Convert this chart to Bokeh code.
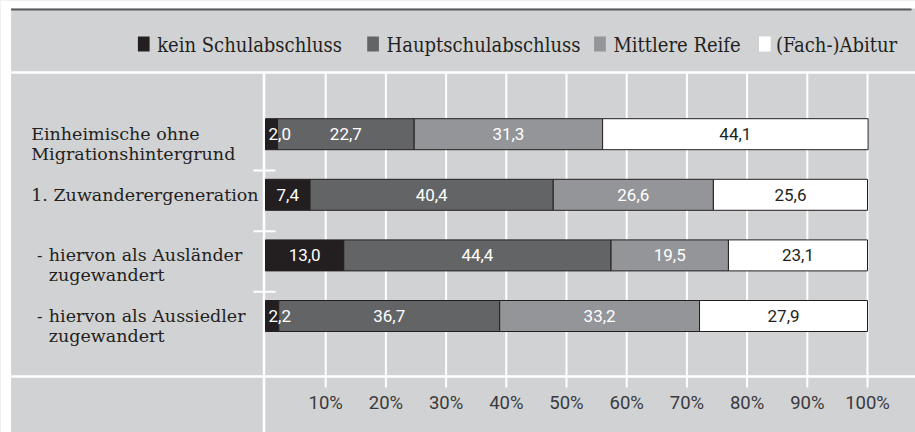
import numpy as np
from bokeh.plotting import figure
from bokeh.models import ColumnDataSource, Range1d
from bokeh.core.properties import value
from bokeh.embed import file_html
from bokeh.resources import INLINE

# ---------------- data ----------------
categories = [
    "Einheimische ohne\nMigrationshintergrund",
    "1. Zuwanderergeneration",
    "hiervon als Ausländer\nzugewandert",
    "hiervon als Aussiedler\nzugewandert",
]
sub_level = [0, 0, 1, 1]
series = ["kein Schulabschluss", "Hauptschulabschluss", "Mittlere Reife", "(Fach-)Abitur"]
kein = [2.0, 7.4, 13.0, 2.2]
haupt = [22.7, 40.4, 44.4, 36.7]
mittlere = [31.3, 26.6, 19.5, 33.2]
abitur = [44.1, 25.6, 23.1, 27.9]
tick_values = [10, 20, 30, 40, 50, 60, 70, 80, 90, 100]
tick_labels = [f"{v}%" for v in tick_values]

# ---------------- style / layout ----------------
colors = ["#231f20", "#636466", "#939598", "#ffffff"]
text_colors = ["#ffffff", "#ffffff", "#ffffff", "#231f20"]
BG = "#d1d2d4"
DARK = "#231f20"
W, H = 915, 432
X0, PXP = 265.0, 6.02        # px of 0 %, px per %
Y0, ROW = 133.7, 60.6        # px of first row centre, px per row
BAR_H = 31.0

LABEL_FONT = value("DejaVu Serif")
LEGEND_FONT = value("DejaVu Serif Condensed")
VALUE_FONT = value("Roboto")
TICK_FONT = value("Roboto")

p = figure(width=W, height=H, output_backend="svg", toolbar_location=None,
           x_range=Range1d((0 - X0) / PXP, (W - X0) / PXP),
           y_range=Range1d((H - Y0) / ROW, (0 - Y0) / ROW),
           x_axis_location=None, y_axis_location=None, min_border=0)
p.extra_x_ranges = {"px": Range1d(0, W)}
p.extra_y_ranges = {"px": Range1d(H, 0)}
p.grid.visible = False
p.outline_line_color = None
p.background_fill_color = BG
p.border_fill_color = BG

# white margins (left / top) & dark top rule
p.quad(left=[0, 0], right=[10.6, W], bottom=[H, 8], top=[0, 0], fill_color="white",
       line_color=None, x_range_name="px", y_range_name="px")
p.segment(x0=10.6, x1=911, y0=9, y1=9, line_color="#58595b", line_width=2,
          x_range_name="px", y_range_name="px")

# separators
p.segment(x0=[10.6, 10.6], x1=[W, W], y0=[72, 376], y1=[72, 376],
          line_color="white", line_width=2.5, x_range_name="px", y_range_name="px")
p.segment(x0=263.5, x1=263.5, y0=72, y1=H, line_color="white", line_width=2.5,
          x_range_name="px", y_range_name="px")

# gridlines
p.segment(x0=tick_values, x1=tick_values, y0=72, y1=387, line_color="white",
          line_width=2, y_range_name="px")

# small ticks between rows
idx = np.arange(len(categories))
p.segment(x0=253, x1=275, y0=idx[:-1] + 0.6, y1=idx[:-1] + 0.6, line_color="white",
          line_width=2, x_range_name="px")

# bars
keys = ["kein", "haupt", "mittlere", "abitur"]
src = ColumnDataSource(dict(idx=idx, kein=kein, haupt=haupt, mittlere=mittlere, abitur=abitur))
p.hbar_stack(keys, y="idx", height=BAR_H / ROW, fill_color=colors, line_color=DARK,
             line_width=1, source=src)

# value labels
vals = np.array([kein, haupt, mittlere, abitur])
starts = np.vstack([np.zeros(len(categories)), np.cumsum(vals, axis=0)[:-1]])
lx, ly, lt, lc, cx, cy, ct, cc = [], [], [], [], [], [], [], []
for j in range(vals.shape[0]):
    for i in range(vals.shape[1]):
        v = vals[j, i]
        t = f"{v:.1f}".replace(".", ",")
        if v < 5:
            lx.append(starts[j, i] + 0.5); ly.append(i); lt.append(t); lc.append(text_colors[j])
        else:
            cx.append(starts[j, i] + v / 2); cy.append(i); ct.append(t); cc.append(text_colors[j])
p.text(x=lx, y=ly, text=lt, text_color=lc, text_align="left", text_baseline="middle",
       text_font=VALUE_FONT, text_font_size="17px")
p.text(x=cx, y=cy, text=ct, text_color=cc, text_align="center", text_baseline="middle",
       text_font=VALUE_FONT, text_font_size="17px")

# category labels
LINE_GAP = 20.0
tx, ty, tt = [], [], []
dx, dy = [], []
for i, (cat, lvl) in enumerate(zip(categories, sub_level)):
    for k, line in enumerate(cat.split("\n")):
        tx.append(48.3 if lvl else 30.7)
        ty.append(i + k * LINE_GAP / ROW)
        tt.append(line)
    if lvl:
        dx.append(36.5); dy.append(i)
p.text(x=tx, y=ty, text=tt, text_color=DARK, text_align="left", text_baseline="middle",
       text_font=LABEL_FONT, text_font_size="17.5px", x_range_name="px")
p.text(x=dx, y=dy, text=["-"] * len(dx), text_color=DARK, text_align="left",
       text_baseline="middle", text_font=LABEL_FONT, text_font_size="16px", x_range_name="px")

# x tick labels
p.text(x=tick_values, y=402.7, text=tick_labels, text_color="#3a3a3c", text_align="center",
       text_baseline="middle", text_font=TICK_FONT, text_font_size="18.5px", y_range_name="px")

# legend (drawn by hand)
LEG_SW = [137.4, 366.7, 593.6, 758.5]
LEG_TX = [156.7, 386.0, 612.9, 775.4]
p.quad(left=LEG_SW, right=[s + 11.7 for s in LEG_SW], top=36, bottom=51,
       fill_color=colors, line_color=None, x_range_name="px", y_range_name="px")
p.text(x=LEG_TX, y=44, text=series, text_color=DARK, text_align="left",
       text_baseline="middle", text_font=LEGEND_FONT, text_font_size="20px",
       x_range_name="px", y_range_name="px")

open("out.html", "w").write(file_html(p, INLINE))
